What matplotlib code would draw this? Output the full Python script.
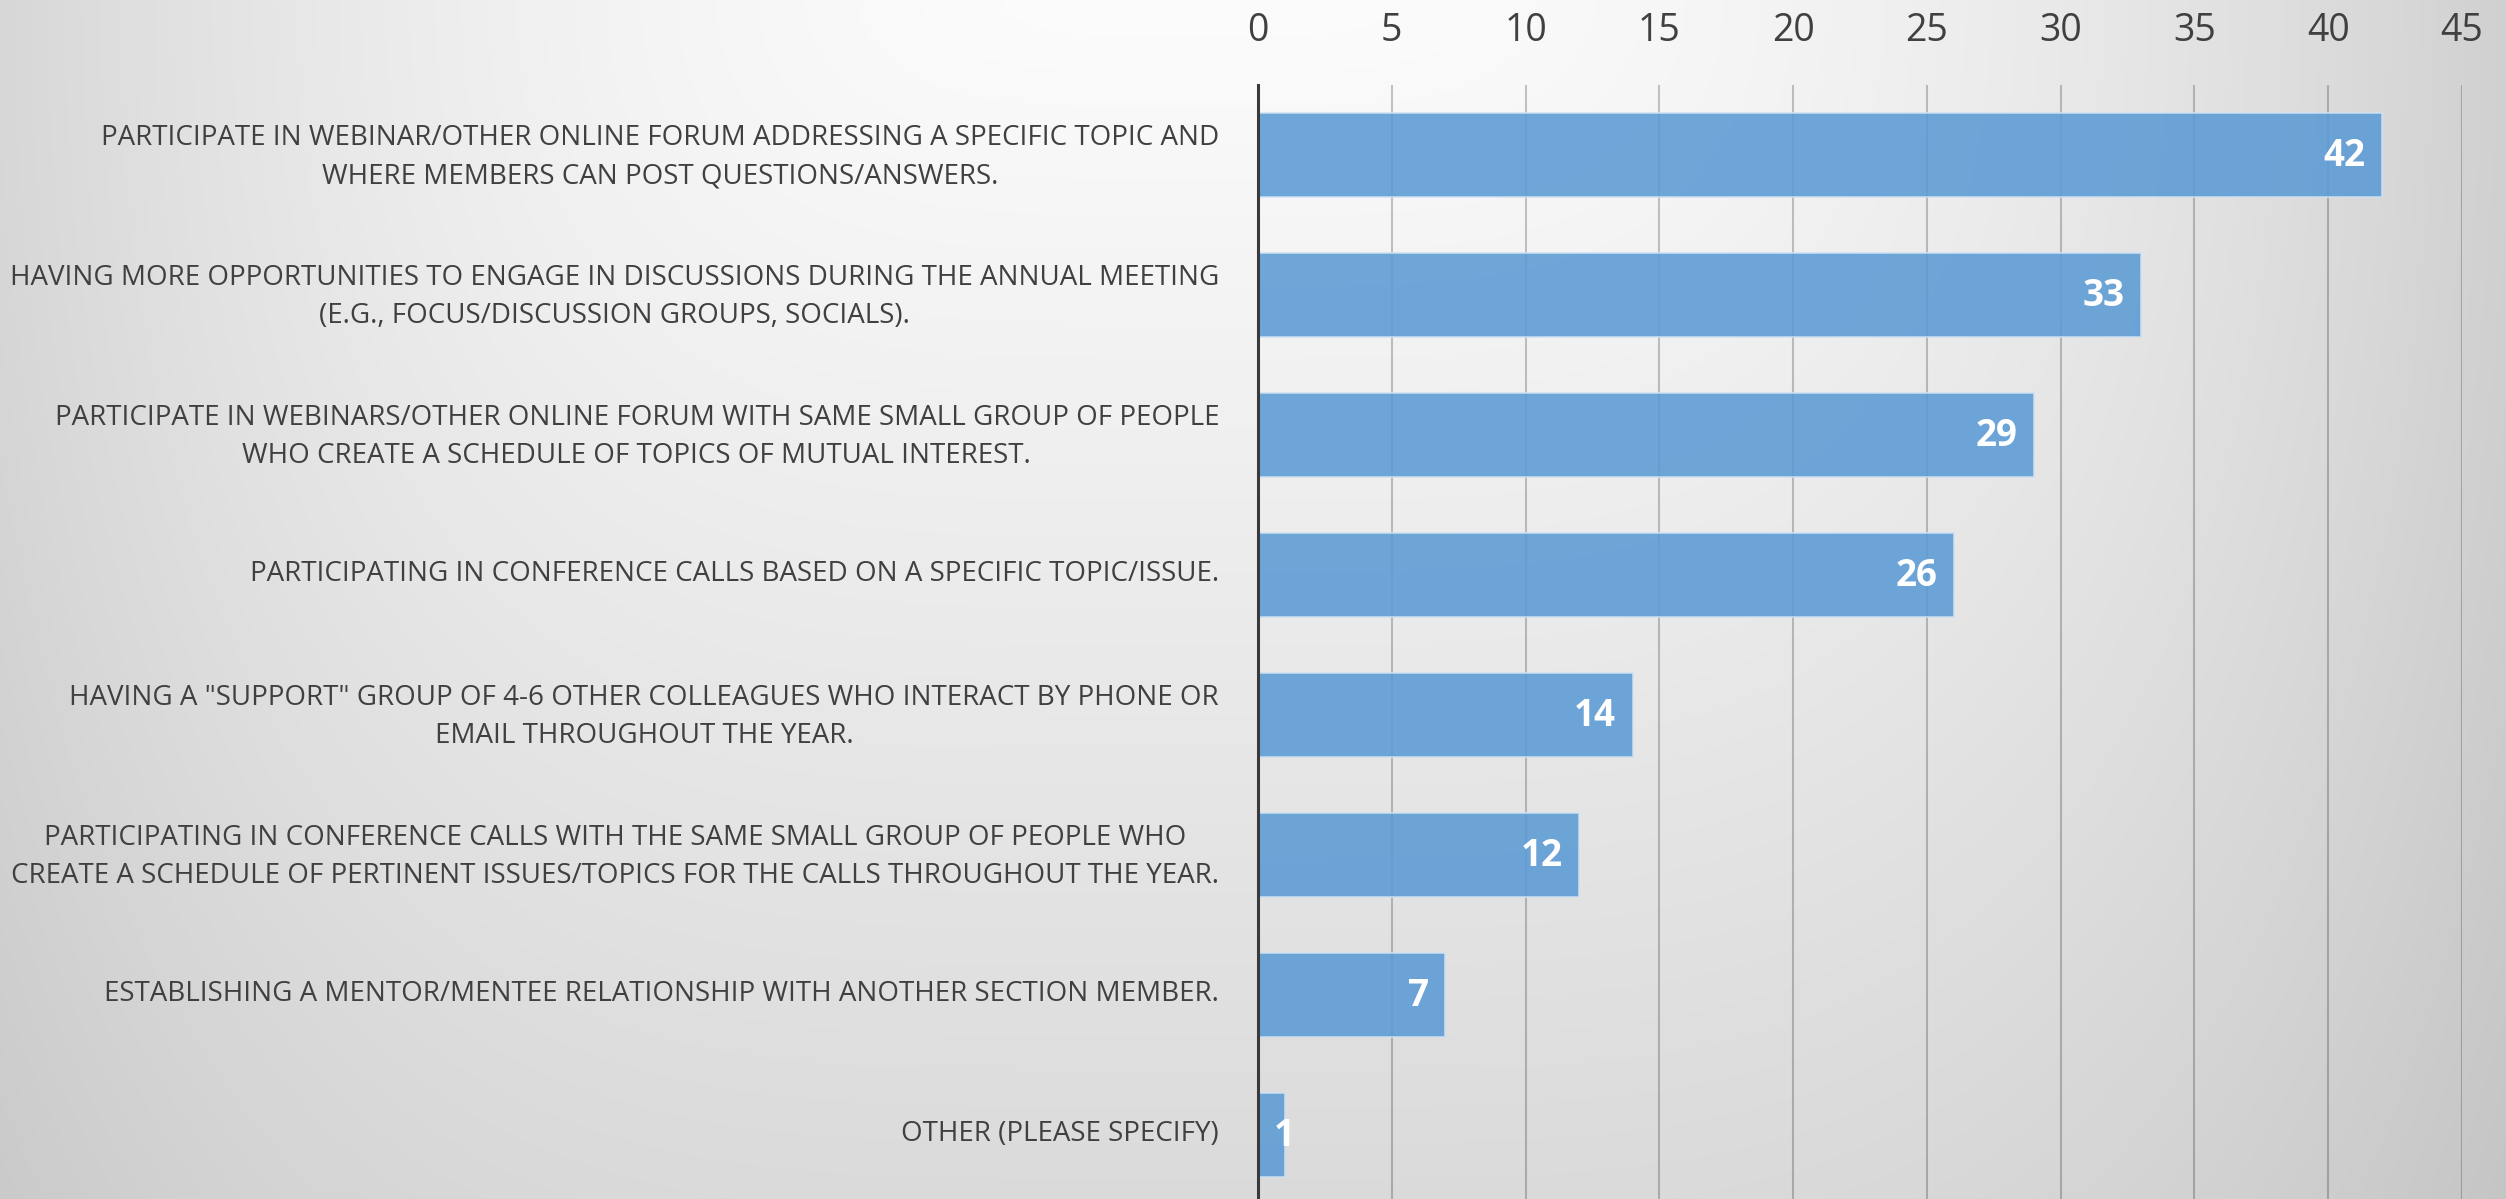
import numpy as np
import matplotlib
matplotlib.use("Agg")
import matplotlib.pyplot as plt
from matplotlib.transforms import ScaledTranslation

plt.rcParams['font.family'] = ['Open Sans', 'DejaVu Sans']

categories = [
    "PARTICIPATE IN WEBINAR/OTHER ONLINE FORUM ADDRESSING A SPECIFIC TOPIC AND\nWHERE MEMBERS CAN POST QUESTIONS/ANSWERS.",
    "HAVING MORE OPPORTUNITIES TO ENGAGE IN DISCUSSIONS DURING THE ANNUAL MEETING\n(E.G., FOCUS/DISCUSSION GROUPS, SOCIALS).",
    "PARTICIPATE IN WEBINARS/OTHER ONLINE FORUM WITH SAME SMALL GROUP OF PEOPLE\nWHO CREATE A SCHEDULE OF TOPICS OF MUTUAL INTEREST.",
    "PARTICIPATING IN CONFERENCE CALLS BASED ON A SPECIFIC TOPIC/ISSUE.",
    "HAVING A \"SUPPORT\" GROUP OF 4-6 OTHER COLLEAGUES WHO INTERACT BY PHONE OR\nEMAIL THROUGHOUT THE YEAR.",
    "PARTICIPATING IN CONFERENCE CALLS WITH THE SAME SMALL GROUP OF PEOPLE WHO\nCREATE A SCHEDULE OF PERTINENT ISSUES/TOPICS FOR THE CALLS THROUGHOUT THE YEAR.",
    "ESTABLISHING A MENTOR/MENTEE RELATIONSHIP WITH ANOTHER SECTION MEMBER.",
    "OTHER (PLEASE SPECIFY)",
]
values = [42, 33, 29, 26, 14, 12, 7, 1]
x_ticks = [0, 5, 10, 15, 20, 25, 30, 35, 40, 45]

W, H = 2506, 1199
fig = plt.figure(figsize=(W / 100, H / 100), dpi=100)

# background gradient (light at top centre, grey toward edges and bottom)
yy, xx = np.mgrid[0:H, 0:W]
hterm = 40.0 * (np.abs(xx - 1200.0) / 1250.0) ** 2
vterm = 0.028 * yy
diff = np.sqrt(hterm ** 2 + vterm ** 2)
g = np.clip(252 - diff, 190, 255) / 255.0
bg = np.dstack([g, g, g])
ax_bg = fig.add_axes([0, 0, 1, 1], zorder=0)
ax_bg.imshow(bg, aspect='auto', interpolation='bilinear')
ax_bg.axis('off')

top_px = 85
band = 140
n = len(categories)
ax = fig.add_axes([1258 / W, 1 - (top_px + n * band) / H, (2462 - 1258) / W, n * band / H], zorder=1)
ax.patch.set_alpha(0)

ypos = np.arange(n)
ax.barh(ypos, values, height=0.6, color='#5b9bd5', alpha=0.88,
        edgecolor='#cfe1f2', linewidth=1.2, zorder=2)
ax.set_ylim(n - 0.5, -0.5)
ax.set_xlim(0, 45)
ax.set_xticks(x_ticks)
ax.xaxis.tick_top()
ax.tick_params(axis='x', length=0, pad=25, labelsize=27, labelcolor='#404040')
ax.tick_params(axis='y', length=0, pad=28, labelsize=20, labelcolor='#404040')
ax.set_yticks(ypos)
ax.set_yticklabels(categories)
for lab, txt in zip(ax.get_yticklabels(), categories):
    lab.set_multialignment('center')
    lab.set_linespacing(1.5)
    up = 5 if '\n' in txt else 3
    lab.set_transform(lab.get_transform() + ScaledTranslation(0, up / 72, fig.dpi_scale_trans))

ax.set_axisbelow(True)
ax.grid(axis='x', color='black', alpha=0.22, linewidth=1.5, zorder=0)
ax.grid(axis='y', visible=False)
for s in ['top', 'right', 'bottom']:
    ax.spines[s].set_visible(False)
ax.spines['left'].set_color('#3a3a3a')
ax.spines['left'].set_linewidth(2.2)
ax.spines['left'].set_zorder(3)

for yi, v in zip(ypos, values):
    if v < 3:
        ax.annotate(str(v), xy=(v, yi), xytext=(0, -1), textcoords='offset points',
                    ha='center', va='center', color='white', fontsize=26.5,
                    fontweight='bold', zorder=4)
    else:
        ax.annotate(str(v), xy=(v, yi), xytext=(-12, -1), textcoords='offset points',
                    ha='right', va='center', color='white', fontsize=26.5,
                    fontweight='bold', zorder=4)

fig.savefig('out.png', dpi=100)
